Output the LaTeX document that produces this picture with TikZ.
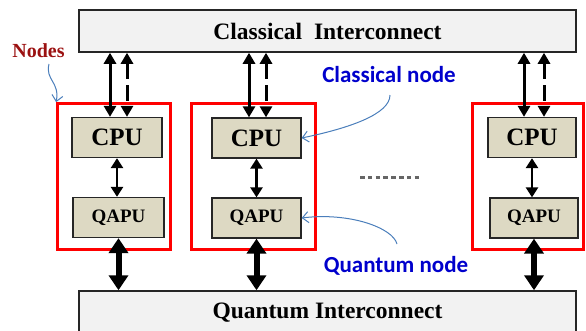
\documentclass[tikz,border=0pt]{standalone}
\usepackage{fontspec}
\setmainfont{Liberation Serif}
\newfontfamily\calib{Carlito}
\usetikzlibrary{arrows.meta,calc}
\definecolor{tan}{HTML}{DDD9C3}
\definecolor{icfill}{HTML}{F2F2F2}
\definecolor{lblue}{HTML}{0000CC}
\definecolor{cblue}{HTML}{4A7EBB}
\definecolor{dred}{HTML}{9B1111}
\tikzset{
  icbox/.style={draw=black!85, line width=1.5pt, fill=icfill, inner sep=0pt, font=\bfseries\fontsize{23.5}{25}\selectfont},
  nodebox/.style={draw=red, line width=2.8pt, inner sep=0pt, minimum height=146},
  unitbox/.style={draw=black!85, line width=1.3pt, fill=tan, inner sep=0pt, minimum height=40},
  cpufont/.style={font=\bfseries\fontsize{25}{27}\selectfont},
  qapufont/.style={font=\bfseries\fontsize{19}{21}\selectfont},
  linkarr/.style={line width=3pt, {Triangle[length=11pt,width=12pt]}-{Triangle[length=11pt,width=12pt]}},
  dlinkarr/.style={linkarr, dash pattern=on 16pt off 6pt},
  innerarr/.style={line width=2.7pt, {Triangle[length=10pt,width=12pt]}-{Triangle[length=10pt,width=12pt]}},
  bigarr/.style={line width=6pt, {Triangle[length=15pt,width=19pt]}-{Triangle[length=15pt,width=19pt]}},
  callout/.style={draw=cblue, line width=1pt, -{Straight Barb[length=6pt,width=11pt]}},
  bluelabel/.style={text=lblue, font=\calib\bfseries\fontsize{23}{25}\selectfont, inner sep=0pt},
}
\begin{document}
\begin{tikzpicture}[x=1pt,y=-1pt]
\useasboundingbox (0,0) rectangle (586,330);
% interconnects
\node[icbox, minimum width=497, minimum height=42] (ci) at (327.5,31) {Classical\ \ Interconnect};
\node[icbox, minimum width=497, minimum height=44] (qi) at (327.5,313) {Quantum\ Interconnect};
% node frames
\node[nodebox, minimum width=113] (n1) at (114,176.5) {};
\node[nodebox, minimum width=124] (n2) at (253.5,176.5) {};
\node[nodebox, minimum width=111] (n3) at (528,176.5) {};
% units
\node[unitbox, minimum width=90, cpufont] (cpu1) at (117,137.5) {CPU};
\node[unitbox, minimum width=91, qapufont] (qapu1) at (118.5,217.5) {QAPU};
\node[unitbox, minimum width=89, cpufont] (cpu2) at (256.5,138) {CPU};
\node[unitbox, minimum width=89, qapufont] (qapu2) at (256.5,218) {QAPU};
\node[unitbox, minimum width=88, cpufont] (cpu3) at (532,137.5) {CPU};
\node[unitbox, minimum width=88, qapufont] (qapu3) at (534,218) {QAPU};
% top links
\foreach \i/\s/\d in {1/-7/10, 2/-7.5/9.5, 3/-8/12}{
  \coordinate (s\i) at ([xshift=\s pt]cpu\i.north);
  \coordinate (d\i) at ([xshift=\d pt]cpu\i.north);
  \draw[linkarr] (s\i) -- (s\i |- ci.south);
  \draw[dlinkarr] (d\i |- ci.south) -- (d\i);
  \draw[innerarr] (cpu\i.south) -- (cpu\i.south |- qapu\i.north);
  \draw[bigarr] (qapu\i.south) -- (qapu\i.south |- qi.north);
}
% ellipsis
\coordinate (dotsL) at (360,177);
\coordinate (dotsR) at (422,177);
\draw[black!60, line width=3pt, dash pattern=on 4.5pt off 3.3pt] (dotsL) -- (dotsR);
% labels
\node[text=dred, font=\bfseries\fontsize{20}{22}\selectfont, inner sep=0pt] (lnodes) at (38.5,51) {Nodes};
\node[bluelabel] (lcn) at (389,75) {Classical node};
\node[bluelabel] (lqn) at (396,266) {Quantum node};
\coordinate (c1) at (49,64);
\coordinate (c2) at (390,95);
\coordinate (c3) at (397,244);
\draw[callout] (c1) .. controls (45,80) and (60,82) .. (n1.north west);
\draw[callout] (c2) .. controls (390,114) and (350,128) .. (cpu2.east);
\draw[callout] (c3) .. controls (393,228) and (350,212) .. (qapu2.east);
\end{tikzpicture}
\end{document}
